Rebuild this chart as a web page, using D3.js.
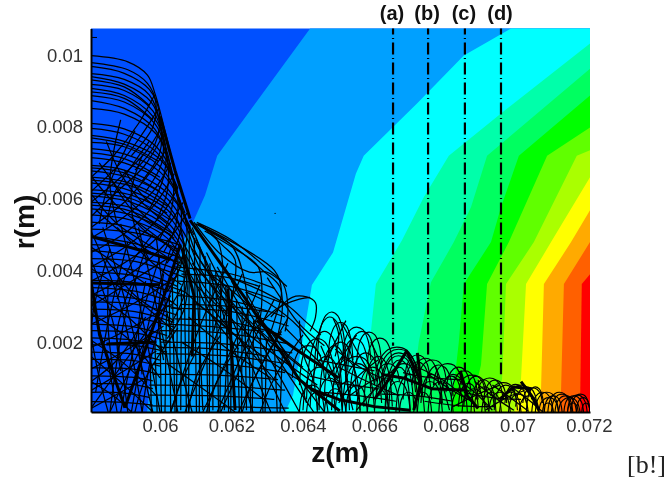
<!DOCTYPE html>
<html>
<head>
<meta charset="utf-8">
<script src="https://cdn.jsdelivr.net/npm/d3@7"></script>
<style>
html,body{margin:0;padding:0;background:#fff;width:668px;height:485px;overflow:hidden}
svg{display:block;filter:blur(.5px)}
text{font-family:"Liberation Sans",Arial,sans-serif}
</style>
</head>
<body>
<script>
// All z and r values are in millimetres; tick labels are shown in metres.
const zTicks = [60,62,64,66,68,70,72];
const zTickLabels = ["0.06","0.062","0.064","0.066","0.068","0.07","0.072"];
const rTicks = [2,4,6,8,10];
const rTickLabels = ["0.002","0.004","0.006","0.008","0.01"];
const zExtent = [58.07,72.03];
const rExtent = [0.05,10.75];

const bandColors = ["#0050ff","#00a0ff","#00ffff","#00ffaa","#00ff60","#00ff00","#60ff00","#aaff00","#ffff00","#ffaa00","#ff6000","#ff0000"];
const edge1 = [[64.2,10.75],[61.6,7.2],[61.26,6.1],[60.92,5.34],[60.64,4.79],[60.2,2.92],[59.8,1.64],[59.64,0.05]];
const edge2 = [[69.82,10.75],[68.5,10],[67.19,8.66],[65.7,7.2],[65.48,6.7],[64.84,4.5],[64.25,3.59],[64.11,2.75],[63.72,0.52],[63.5,0.05]];
const edge3 = [[72.03,10.33],[69.54,8.38],[68.08,7.2],[67.38,6.04],[66.77,4.84],[66.04,3.62],[65.9,2.28],[65.7,1.08],[65.45,0.05]];
const edge4 = [[72.03,9.63],[69.15,7.2],[68.7,5.76],[68.22,4.79],[67.58,3.67],[67.24,2],[66.99,0.05]];
const edge5 = [[72.03,8.88],[70.04,7.2],[69.54,5.76],[69.26,4.79],[68.5,3.62],[68.36,2],[68.14,0.05]];
const edge6 = [[72.03,7.99],[70.83,7.2],[69.76,4.79],[69.15,3.62],[68.98,1.36],[68.67,0.05]];
const edge7 = [[72.03,7.35],[71.66,7.2],[70.46,4.79],[69.68,3.62],[69.57,0.97],[69.37,0.05]];
const edge8 = [[72.03,6.6],[70.94,4.79],[70.24,3.62],[70.1,0.97],[69.93,0.05]];
const edge9 = [[72.03,5.68],[71.5,4.79],[70.74,3.62],[70.66,0.69],[70.55,0.05]];
const edge10 = [[72.03,4.79],[71.3,3.62],[71.22,0.66],[71.13,0.05]];
const edge11 = [[72.03,3.89],[71.8,3.62],[71.75,0.05]];

const stationNames = ["(a)","(b)","(c)","(d)"];
const stationZ = [66.52,67.5,68.53,69.54];
const stationEndR = [1.9,1.65,1.18,1.1];

const orbitsUpper = [
[58.07,9.99,59.1,9.82,59.65,9.45,59.87,8.9,60.14,7.9,60.42,6.79,60.84,5.45],
[58.07,9.8,59.1,9.6,59.65,9.22,59.88,8.7,59.8,8,59.2,7.2],
[58.07,9.69,59,9.5,59.7,9.05,59.98,8.4,59.85,7.5,59.3,6.8],
[58.07,9.49,59,9.33,59.7,8.9,60,8.1,60,7.3,59.5,6.5],
[58.07,9.41,59,9.2,59.75,8.7,60.05,7.9,60.05,7,59.6,6.2],
[58.07,9.19,59,9.02,59.8,8.45,60.1,7.7,60.25,6.9,60.5,6.3],
[58.07,9.08,59,8.88,59.8,8.3,60.15,7.5,60.1,6.6,59.7,5.7],
[58.07,8.88,59,8.7,59.85,8.1,60.2,7.3,60.4,6.4,60.7,5.6],
[58.07,8.74,59,8.52,59.85,7.95,60.2,7.1,60.2,6.2,59.9,5.4],
[58.07,8.52,59,8.36,59.9,7.8,60.3,6.9,60.5,6,60.85,5.2],
[58.07,8.1,59,7.95,59.9,7.45,60.35,6.6,60.3,5.6,60,4.9],
[58.07,7.96,59,7.8,59.9,7.3,60.4,6.5,60.6,5.7,60.95,5],
[58.07,7.77,59,7.6,60,7.1,60.45,6.3,60.45,5.3,60.1,4.5],
[58.07,7.57,59,7.45,60,6.9,60.5,6.1,60.75,5.3,61.1,4.6],
[58.07,7.4,59,7.25,60,6.75,60.55,5.9,60.55,5,60.2,4.2],
[58.07,7.15,59,7,60,6.5,60.6,5.7,60.9,5,61.3,4.2],
[58.07,6.93,59,6.8,60.1,6.25,60.7,5.45,60.7,4.6,60.3,3.8],
[58.07,6.78,59.1,6.6,60.1,6.1,60.7,5.3,61,4.5,61.5,3.7],
[58.07,6.6,59.1,6.45,60.1,5.95,60.6,5.1,60.6,4.2,60.2,3.4],
[58.07,6.44,59.1,6.25,60.2,5.7,60.75,4.9,61.1,4.1,61.7,3.2],
[58.07,6.25,59.2,6.1,60.2,5.55,60.7,4.7,60.7,3.8,60.3,3],
[58.07,6.08,59.2,5.9,60.2,5.35,60.8,4.5,61.2,3.6,61.9,2.8],
[58.07,5.9,59.2,5.75,60.2,5.2,60.7,4.4,60.7,3.4,60.3,2.5],
[58.07,5.72,59.2,5.55,60.2,5.05,60.85,4.2,61.3,3.2,62,2.3],
[58.07,5.55,59.2,5.4,60.2,4.9,60.7,4,60.7,3,60.2,2.1],
[58.07,5.35,59.2,5.2,60.2,4.7,60.9,3.8,61.4,2.8,62.2,1.8],
[58.07,9.32,59,9.12,59.7,8.6],[58.07,8.98,59,8.8,59.8,8.2],[58.07,7.7,59,7.52,59.95,7.05],
[58.07,7.28,59,7.12,60,6.6],[58.07,6.86,59,6.72,60,6.2],[58.07,6.52,59.2,6.35,60.2,5.8],
[58.07,6.16,59.2,6,60.3,5.4],[58.07,5.82,59.2,5.65,60.4,5]
];
const orbitsReturn = [
[59.85,8.9,59.4,8.1,58.7,7.2,58.07,6.6],[59.95,8.5,59.5,7.8,58.9,7,58.07,6.2],
[60.05,8,59.6,7.3,58.9,6.6,58.07,5.9],[60.1,7.8,59.55,6.9,58.8,6.2,58.07,5.5],
[60.2,7.4,59.7,6.7,59,5.9,58.07,5.2],[60.3,7,59.8,6.2,59,5.5,58.07,4.9],
[60.4,6.7,59.9,5.9,59.1,5.1,58.07,4.5],[60.5,6.3,60,5.5,59.1,4.7,58.07,4.1],
[60.65,5.9,60.1,5.1,59.3,4.4,58.07,3.7],[60.75,5.6,60.2,4.8,59.3,4,58.07,3.3],
[59.7,7.6,59.2,6.9,58.7,6.1,58.5,5.2],[59.3,7.9,58.9,7.1,58.5,6.2,58.3,5.3],
[58.9,8.2,58.7,7.3,58.6,6.4,58.8,5.3],[59.5,7.2,59.2,6.2,59.3,5.2,59.7,4.3],
[58.5,7.6,58.9,6.7,59.5,5.9,60.2,5.3],[58.3,7,58.9,6.2,59.6,5.5,60.4,4.9],
[58.1,6.6,58.8,5.8,59.7,5.1,60.5,4.5],[58.1,6.1,58.8,5.3,59.7,4.7,60.6,4.1],
[59,6.8,59.6,6,60.2,5.6],[58.6,6.6,59.3,5.6,60.3,5],[58.2,5.7,59,5,59.9,4.4],[59.2,5.5,59.7,5,60.5,4.6]
];
const webHorizontal = [
[58.07,5.15,59.3,5.05,60.6,4.7],[58.07,4.95,59.3,4.75,60.6,4.35],[58.07,4.72,59.3,4.62,60.6,4.2],
[58.07,4.55,59.3,4.4,60.7,3.95],[58.07,4.33,59.3,4.25,60.7,3.8],[58.07,4.12,59.3,4,60.5,3.55],
[58.07,3.95,59.3,3.85,60.7,3.4],[58.07,3.72,59.3,3.66,60.7,3.3],[58.07,3.52,59.3,3.42,60.4,3.1],
[58.07,3.32,59.3,3.22,60.6,2.9],[58.07,3.12,59.3,3.06,60.5,2.75],[58.07,2.92,59.3,2.85,60.4,2.55],
[58.07,2.72,59.3,2.68,60.4,2.42],[58.07,2.5,59.3,2.42,60.2,2.18],[58.07,2.32,59.3,2.26,60.3,2],
[58.07,2.12,59.3,2.05,60.1,1.85],[58.07,1.92,59.3,1.9,60.2,1.72],[58.07,1.72,59.3,1.66,60,1.5],
[58.07,1.52,59.3,1.48,60,1.33],[58.07,1.28,59.2,1.25,59.9,1.12],[58.07,1.06,59.2,1.02,59.8,.92],
[58.07,.84,59.2,.82,59.8,.7],[58.07,.6,59,.58,59.7,.46],[58.07,.34,59,.32,59.8,.24],
[60.4,4.1,62,3.9,63.2,3.5],[60.5,3.7,62,3.55,63.4,3.1],[60.5,3.3,62,3.15,63.5,2.7],
[60.3,2.95,62,2.85,63.6,2.45],[60.4,2.65,62,2.55,63.4,2.2],[60,2.32,61.8,2.25,63.6,1.95],
[60,2,61.8,1.95,63.7,1.7],[59.9,1.68,61.8,1.62,63.4,1.42],[59.8,1.4,61.8,1.38,63.5,1.15],
[59.8,1.1,61.6,1.08,63.3,.95],[59.7,.8,61.6,.78,63.5,.66],[59.7,.52,61.6,.5,63.2,.4],[59.7,.22,61.6,.2,63.6,.16],
[60.6,3.9,61.8,3.82,62.8,3.55],[60.6,3.05,61.9,3,63,2.85],[60.2,2.5,61.6,2.42,62.9,2.3],[60,1.85,61.6,1.8,63,1.6]
];
const webVertical = [
[59.72,1.7,59.76,.05],[59.86,1.9,59.92,.05],[60,2.3,60.04,.05],[60.18,2.8,60.14,.05],[60.34,3.8,60.42,.05],
[60.5,4.4,60.46,.05],[60.66,4.7,60.74,.05],[60.82,5.1,60.8,.05],[60.96,4.9,61.02,.05],[61.12,4.6,61.1,.05],
[61.26,4.4,61.34,.05],[61.4,4.2,61.38,.05],[61.56,4,61.64,.05],[61.7,3.8,61.68,.05],[61.84,3.6,61.92,.05],
[62,3.4,61.98,.05],[62.14,3.2,62.22,.05],[62.3,3,62.28,.05],[62.46,2.9,62.54,.05],[62.62,2.6,62.58,.05],
[62.8,2.4,62.88,.05],[62.98,2.1,62.94,.05],[63.2,1.9,63.28,.05],[63.42,1.6,63.36,.05],[60.26,3.3,60.3,.05],
[60.6,3.5,60.58,.1],[61.02,3.9,61.2,.1],[61.48,3.5,61.48,.1],[61.94,3.1,61.8,.1],[62.38,2.5,62.42,.1]
];
const webDiagonal = [
[58.07,5.1,58.9,3,59.5,.05],[58.07,4.3,58.7,2.5,59.1,.05],[58.07,3.2,58.5,1.6,58.8,.05],[58.07,2.2,58.3,1,58.55,.05],
[58.4,5.2,58.9,3.6,59.8,.05],[58.9,5.3,59.4,3.2,60,.05],[59.4,5.2,59.9,3,60.5,.05],[59.9,4.9,60.2,2.8,60.9,.05],
[60.3,4.6,59.7,2.6,59.2,.05],[60,4.4,59.4,2.4,58.9,.05],[59.6,4.6,59,2.6,58.6,.05],[59.1,4.8,58.6,2.8,58.2,.6],
[58.6,4.6,58.2,3.2,58.07,2.4],[60.5,4,59.8,1.8,59.5,.05],[60.3,3.3,59.3,1.5,58.6,.05],[60,2.8,58.9,1.3,58.1,.2],
[59.6,2.7,58.8,1.5,58.07,.9],[60.5,2.4,59.6,1,59.3,.05],[58.07,1.6,59,.8,59.8,.05],[58.07,.9,58.7,.5,59.2,.05],
[60.9,5.2,61.5,3.6,62.6,.05],[61,4.9,61.9,2.9,63.1,.05],[61.3,4.5,62.3,2.5,63.5,.05],[61.6,4.1,62.7,2.2,63.9,.05],
[62,3.7,63,2,64.3,.05],[62.4,3.4,63.4,1.7,64.6,.05],[61.9,4.2,61.1,2.4,60.3,.05],[62.3,3.9,61.5,2,60.7,.05],
[62.8,3.6,62,1.8,61.2,.05],[63.2,3.2,62.4,1.6,61.7,.05],[63.6,2.7,62.8,1.3,62.2,.05],[64,2.2,63.2,1,62.8,.05],
[60.9,4.6,62.2,2.9,64,1.3],[60.9,4.2,62.4,2.6,64.2,1.1],[60.8,3.8,62.5,2.2,64.4,.8],[60.7,3.4,62.6,1.8,64.6,.5],
[58.07,4.65,59.2,3.9,60.5,3],[58.07,4.05,59.2,3.3,60.4,2.3],[58.07,3.4,59.1,2.7,60.2,1.6],[58.07,2.8,59.1,2.1,60,1],
[58.07,2.05,59,1.4,59.9,.5],[60.4,4.45,59.2,3.7,58.07,3],[60.5,3.85,59.3,3.1,58.07,2.5],[60.3,3.05,59.2,2.4,58.07,1.85],
[60.1,2.45,59.1,1.8,58.07,1.25],[59.9,1.75,59,1.2,58.07,.65],[59.6,1,58.9,.6,58.07,.15],[58.8,5.2,59.8,4.2,60.6,3.6],
[58.5,4.3,59.3,3.3,60.4,2.6],[59.8,5,59.2,4.2,58.8,3.2],[59.2,3.6,58.8,2.3,58.9,1.2],[59.6,3.7,59.4,2.4,59.5,1.1],
[60.1,3.9,59.95,2.7,60.1,1.5],[58.55,3.7,58.55,2.4,58.7,1.1],[60.8,2.7,61.9,1.8,63.1,1],[60.6,2,61.7,1.3,62.9,.4],
[61.4,3.9,62.5,3,63.6,1.6],[61,3.1,62.1,2.2,63.4,.7],[60.2,1.4,61.2,.7,62.1,.05],[62.8,2.9,62.1,1.2,61.6,.05],
[63.4,2.3,62.6,.9,62.3,.05],[61.1,1.9,60.6,.9,60.3,.05],[61.7,2.2,61,1,60.8,.05],[62.3,2.1,61.6,.9,61.3,.05]
];
const domeArcs = [
[61.03,5.34,62.0,4.85,62.99,4.06,63.45,3.62,63.58,2.9,63.5,2.3],
[61.0,5.3,61.95,4.75,62.85,4.02,63.35,3.55,63.42,2.9,63.3,2.2],
[60.95,5.35,61.7,4.45,62.5,3.95,63.0,3.95,63.55,3.55],
[61.2,5.2,62.0,4.7,62.35,3.8,62.45,2.9,62.35,2.2],
[61.25,5.1,62.1,4.6,62.75,4.1,62.85,3.2,62.75,2.3],
[61.15,5.25,61.75,4.7,62.1,4.3,62.0,3.1,61.85,2.2],
[61.1,5.3,61.6,4.85,61.75,4.2,61.7,3.2,61.5,2.3],
[61.05,5.3,63.2,4.0,63.4,3.4,63.2,2.6,63.0,2],
[62.1,3.75,62.9,3.4,63.6,3.0,64.1,2.55,64.5,2.2],
[63.1,2.7,63.7,3.25,64.1,3.26,64.35,3.1,64.35,2.7,64.2,2.3],
[62.6,2.3,63.3,2.95,63.9,3.2,64.2,3.25],
[63,3.8,63.4,3.2,63.9,2.5,64.6,1.9],[62.4,3.4,63.1,3.05,63.9,2.4,64.5,1.6],
[63.5,2.4,64,1.9,64.6,1.3,65,.9],[63.2,2.2,63.6,1.5,63.9,.9,64.1,.3],
[63.9,2.6,64,1.7,64.3,.9,64.4,.1]
];
const ridgeThick = [
[60,8.3,60.42,6.79,60.84,5.45],
[58.07,3.7,58.31,2.2,59.02,.17],
[59.02,.17,60.22,3.6,60.56,4.7],
[60.84,5.4,62.4,3.2,63.9,.95,65.03,.08],
[58.07,4.95,59.5,4.55,60.3,4.3],
[58.07,3.65,60,3.6],
[58.5,1.95,59.9,2],
[60.62,4.6,60.95,3.3,60.9,1.6],
[61.9,3.5,62,1.8,62.1,.1],
[62.7,2.6,63.8,1.8,65,1],
[66.2,1.1,66.8,1,67.6,.7,68.6,.66],
[66,.4,66.5,1.1,66.9,1.75,67.25,1],
[69.5,.4,69.9,.75,70.4,.7],
[64.2,.7,65,.4,66,.2,67,.1],
[67.1,.1,67.3,.9,67.2,1.7],
[68.4,1.2,68.6,.5,68.9,.15],
[70.1,.9,70.4,.5,70.6,.1]
];
// Loops near the wall: start z, base r, end z, peak r
const humps = [
[63.7,1,64.6,1.9],[63.9,.8,64.9,2.1],[64.1,.4,65.1,2.3],[64.3,.9,65.2,2.7],[64.4,1.5,65.2,2.84],[64.7,1.5,65.4,2.55],
[64,.1,64.9,1.3],[64.2,.2,65.1,1.6],[64.45,.1,65.3,1.9],[64.6,.5,65.5,2],[64.8,.1,65.6,1.5],[65,.6,65.9,2.1],
[65.1,1.5,65.9,2.42],[65.25,1.2,66.05,2.3],[65.5,1.4,66.2,2.28],[65.8,1.4,66.5,2.11],[65.1,.1,66,1.4],[65.3,.3,66.2,1.7],
[65.5,.05,66.4,1.3],[65.7,.2,66.5,1.6],[63.9,.05,64.6,.8],[64.4,.05,65.1,1],[64.9,.05,65.6,.9],[65,.8,66,1.6],
[66,.8,67.25,1.86],[66.05,.6,67.3,1.8],[66.15,.5,67.2,1.7],[66.2,.6,67.15,1.62],[66.3,.2,67.1,1.5],[66.4,.1,67.0,1.3],
[66,.05,66.7,1],[66.3,.05,67,.9],[66.6,.05,67.4,1.1],[66.8,.4,67.6,1.45],[66.85,1,67.55,1.64],[67.05,.8,67.8,1.55],
[67.25,1,68,1.5],[67.4,.5,68.2,1.36],[67.65,.8,68.45,1.4],[67.2,.05,67.9,.9],[67.5,.05,68.2,.9],[67.8,.05,68.6,1.1],
[68,.6,68.7,1.3],[68.15,.4,68.9,1.2],[68.35,.6,69.1,1.08],[68.5,.2,69.2,1.05],[68.15,.05,68.8,.7],[68.45,.05,69.1,.7],
[68.7,.05,69.4,.95],[68.85,.4,69.6,1],[69.05,.3,69.7,.94],[69.25,.5,69.95,.87],[69.35,.1,70,.8],[69,.05,69.55,.6],
[69.2,.05,69.8,.6],[69.5,.05,70.1,.6],[69.65,.3,70.25,.82],[69.8,.4,70.4,.8],[69.95,.2,70.55,.75],[69.75,.05,70.3,.55],
[70.05,.05,70.6,.5],[70.15,.3,70.7,.72],[70.25,.05,70.75,.75],[70.4,.05,71,.6],[70.5,.05,71.15,.6],[70.6,.05,71.15,.45],
[70.75,.05,71.25,.5],[70.85,.05,71.5,.6],[70.95,.05,71.55,.55],[71.05,.05,71.65,.5],[71.15,.05,71.75,.45],[71.3,.05,71.85,.5],
[71.4,.05,71.95,.52],[71.5,.05,72.03,.55],[71.65,.05,72.03,.45],[71.8,.05,72.03,.3],[70.7,.05,71,.3],[71.4,.05,71.7,.3],
[64.1,.05,64.7,.6],[64.6,.05,65.2,.7],[65.2,.05,65.8,.8],[65.8,.05,66.4,.7],[66.7,.05,67.2,.6],[67.1,.05,67.6,.6],
[66.05,.9,66.7,1.4],[66.5,.9,67.15,1.4],[67.3,.3,67.9,1.1],[67.85,.3,68.45,1.05],[68.35,.2,68.9,.85],[68.8,.2,69.35,.75]
];
const wallLinks = [
[65.2,2.6,64.9,2,64.5,1.3],[65.5,2.2,65.1,1.6,64.7,1],[66.1,1.5,65.5,1,65,.3],[66.7,1.4,66.1,.8,65.5,.1],
[64.9,1.8,65.6,1.3,66.4,.9],[65,1.3,65.8,.9,66.7,.5],[65.3,.5,65.9,.9,66.6,1.2],[67.2,1.3,67.9,.95,68.6,.4],
[67.5,1.1,68.1,.7,68.8,.3],[68.2,1.05,68.8,.6,69.3,.1],[68.8,.9,69.3,.5,69.9,.1],[69.3,.8,69.8,.45,70.3,.08],
[69.9,.7,70.3,.4,70.7,.06],[68.2,.2,68.9,.55,69.5,.8],[69.1,.1,69.7,.45,70.2,.65],
[64.4,1.5,65.2,1.35,66,1.2],[64.2,1.05,65.1,.85,66.1,.7],[64.6,.6,65.6,.5,66.6,.35],[66.2,.55,67.2,.5,68.2,.35],
[66.8,1.15,67.6,1,68.5,.95],[67.4,.35,68.4,.22,69.4,.2],[68.5,.6,69.3,.45,70.1,.4],[65.1,2.5,65.6,1.6,66,.9],
[64.85,2.65,65,2.2,64.9,1.6],[65.9,2,66.2,1.3,66.3,.6],[67.7,1.35,67.9,.8,68.1,.1],[68.9,.95,69,.5,69.2,.08],
[64.5,1.9,64.8,1.2,65.2,.2],[65.35,2.1,65.2,1.2,65.4,.1]
];
const strayDot = [63.22,5.59];

const margin = {left:91,right:590,top:28.5,bottom:412};
const x = d3.scaleLinear().domain(zExtent).range([margin.left,margin.right]);
const y = d3.scaleLinear().domain(rExtent).range([margin.bottom,margin.top]);
const svg = d3.select("body").append("svg").attr("width",668).attr("height",485);

const pairs = f => d3.range(0,f.length,2).map(i=>[f[i],f[i+1]]);
const area = d3.line().x(d=>x(d[0])).y(d=>y(d[1]));
const curve = d3.line().x(d=>x(d[0])).y(d=>y(d[1])).curve(d3.curveCatmullRom.alpha(.5));

svg.append("rect").attr("x",x(zExtent[0])).attr("y",y(rExtent[1])).attr("width",x(zExtent[1])-x(zExtent[0])).attr("height",y(rExtent[0])-y(rExtent[1])).attr("fill",bandColors[0]);
const edges = [edge1,edge2,edge3,edge4,edge5,edge6,edge7,edge8,edge9,edge10,edge11];
edges.forEach((e,i)=>{
  const poly = e.concat([[zExtent[1],rExtent[0]],[zExtent[1],e[0][1]]]);
  svg.append("path").attr("d",area(poly)+"Z").attr("fill",bandColors[i+1]);
});

const defs = svg.append("defs");
defs.append("clipPath").attr("id","plot").append("rect").attr("x",margin.left).attr("y",margin.top).attr("width",margin.right-margin.left).attr("height",margin.bottom-margin.top);
const paths = svg.append("g").attr("clip-path","url(#plot)").attr("fill","none").attr("stroke","#000").attr("stroke-linejoin","round");

const humpShape = h => {
  const [z0,r0,z1,r1] = h, w = z1-z0, t = r1-r0;
  return [[z0,r0],[z0+w*.1,r0+t*.62],[z0+w*.3,r0+t*.93],[z0+w*.5,r1],[z0+w*.72,r0+t*.92],[z0+w*.9,r0+t*.6],[z1,r0]];
};
const thin = [...orbitsUpper,...orbitsReturn,...webHorizontal,...webVertical,...webDiagonal,...domeArcs,...wallLinks].map(pairs);
paths.selectAll("path.t").data(thin).join("path").attr("class","t").attr("d",curve).attr("stroke-width",1.25);
paths.selectAll("path.h").data(humps.map(humpShape)).join("path").attr("class","h").attr("d",curve).attr("stroke-width",1.15);
paths.selectAll("path.k").data(ridgeThick.map(pairs)).join("path").attr("class","k").attr("d",area).attr("stroke-width",3);

svg.append("circle").attr("cx",x(strayDot[0])).attr("cy",y(strayDot[1])).attr("r",.6).attr("fill","#000");

const g = svg.append("g");
stationZ.forEach((z,i)=>{
  g.append("line").attr("x1",x(z)).attr("x2",x(z)).attr("y1",y(rExtent[1])).attr("y2",y(stationEndR[i]))
    .attr("stroke","#000").attr("stroke-width",2.2).attr("stroke-dasharray","12 3.6 .8 3.6").attr("stroke-dashoffset",6);
  g.append("text").attr("x",x(z)-1).attr("y",20).attr("text-anchor","middle").attr("font-size",20).attr("font-weight","bold").attr("fill","#111").text(stationNames[i]);
});

const ax = svg.append("g").attr("transform",`translate(0,${margin.bottom})`)
  .call(d3.axisBottom(x).tickValues(zTicks).tickFormat((d,i)=>zTickLabels[i]).tickSize(0).tickPadding(7));
const ay = svg.append("g").attr("transform",`translate(${margin.left},0)`)
  .call(d3.axisLeft(y).tickValues(rTicks).tickFormat((d,i)=>rTickLabels[i]).tickSize(0).tickPadding(8));
[ax,ay].forEach(a=>{
  a.selectAll("text").attr("font-size",18.5).attr("fill","#333").style("font-family",'"Liberation Sans",Arial,sans-serif');
  a.select(".domain").attr("stroke","#000").attr("stroke-width",2);
});
svg.append("line").attr("x1",margin.left).attr("x2",margin.left+6).attr("y1",y(10.5)).attr("y2",y(10.5)).attr("stroke","#000").attr("stroke-width",1);

svg.append("text").attr("x",340).attr("y",462).attr("text-anchor","middle").attr("font-size",28).attr("font-weight","bold").attr("fill","#111").text("z(m)");
svg.append("text").attr("transform","translate(34,222) rotate(-90)").attr("text-anchor","middle").attr("font-size",28).attr("font-weight","bold").attr("fill","#111").text("r(m)");
svg.append("text").attr("x",627).attr("y",473).attr("font-size",26).attr("fill","#222").style("font-family",'"Liberation Serif",serif').text("[b!]");
</script>
</body>
</html>
